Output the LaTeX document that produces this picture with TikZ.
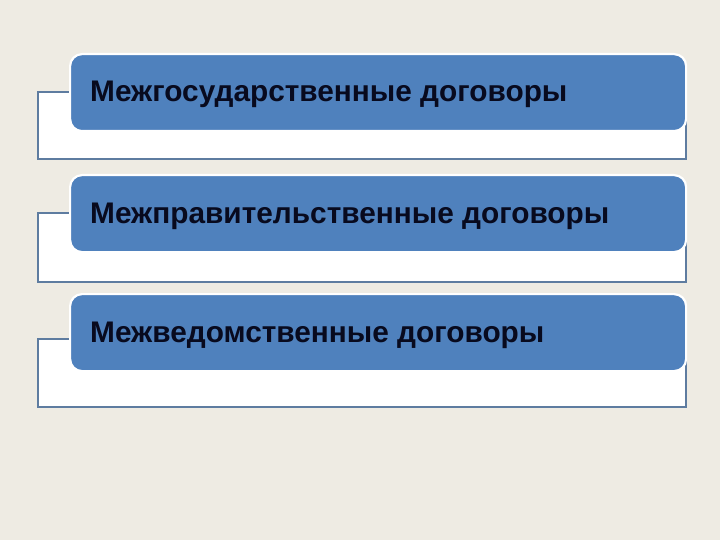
\documentclass[tikz,border=0pt]{standalone}
\usepackage{fontspec}
\setmainfont{Liberation Sans}
\definecolor{bgc}{RGB}{238,235,227}
\definecolor{boxblue}{RGB}{79,129,189}
\definecolor{frameline}{RGB}{94,124,160}
\definecolor{txt}{RGB}{8,10,30}
\begin{document}
\begin{tikzpicture}[x=1pt,y=-1pt,
  backbox/.style={draw=frameline,line width=1.6pt,fill=white,rectangle,anchor=north west,inner sep=0pt},
  bluebox/.style={draw=white,line width=2.2pt,fill=boxblue,rectangle,rounded corners=12pt,anchor=north west,inner sep=0pt},
  label/.style={anchor=base west,text=txt,font=\fontsize{29.8}{34}\selectfont\bfseries,inner sep=0pt}]
\fill[bgc] (0,0) rectangle (720,540);
\useasboundingbox (0,0) rectangle (720,540);
% group 1
\node[backbox,minimum width=648pt,minimum height=67pt] (w1) at (37,91) {};
\node[bluebox,minimum width=616pt,minimum height=77pt] (b1) at (69,53) {};
\node[label] (t1) at (90,102) {Межгосударственные договоры};
% group 2
\node[backbox,minimum width=648pt,minimum height=69pt] (w2) at (37,212) {};
\node[bluebox,minimum width=616pt,minimum height=77pt] (b2) at (69,174) {};
\node[label] (t2) at (90,223) {Межправительственные договоры};
% group 3
\node[backbox,minimum width=648pt,minimum height=68pt] (w3) at (37,338) {};
\node[bluebox,minimum width=616pt,minimum height=77pt] (b3) at (69,293) {};
\node[label] (t3) at (90,342) {Межведомственные договоры};
\end{tikzpicture}
\end{document}
